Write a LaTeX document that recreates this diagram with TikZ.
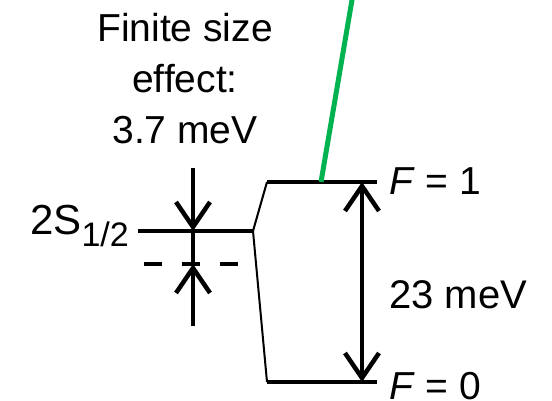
\documentclass[tikz,border=0pt]{standalone}
\usepackage{fontspec}
\setmainfont{Liberation Sans}
\usetikzlibrary{arrows.meta}
\definecolor{lasergreen}{RGB}{0,178,80}
\tikzset{
  level/.style={line width=4.7pt},
  thinlink/.style={line width=2pt},
  barbtip/.style={-{Straight Barb[length=25pt,width=34pt,line width=4.5pt]}},
  dbarb/.style={{Straight Barb[length=25pt,width=34pt,line width=4.5pt]}-{Straight Barb[length=25pt,width=34pt,line width=4.5pt]}},
  lbl/.style={inner sep=0pt, font=\fontsize{39}{51}\selectfont},
}
\begin{document}
\begin{tikzpicture}[x=1pt,y=-1pt]
\useasboundingbox (0,0) rectangle (552,401);
% coordinates
\coordinate (sL) at (138,231);
\coordinate (sR) at (253,231);
\coordinate (f1L) at (267,182);
\coordinate (f1R) at (377,182);
\coordinate (f0L) at (267,382);
\coordinate (f0R) at (377,382);
\coordinate (dL) at (144,264);
\coordinate (dR) at (238,264);
\coordinate (vTop) at (193,168);
\coordinate (vBot) at (193,326);
\coordinate (vA) at (193,231);
\coordinate (vB) at (193,264);
\coordinate (gBot) at (321,182);
\coordinate (gTop) at (353,-6);
\coordinate (aTop) at (362,182);
\coordinate (aBot) at (362,382);
% levels
\draw[level] (sL) -- (sR);
\draw[level] (f1L) -- (f1R);
\draw[level] (f0L) -- (f0R);
\draw[level, dash pattern=on 18pt off 20pt] (dL) -- (dR);
% links
\draw[thinlink] (sR) -- (f1L);
\draw[thinlink] (sR) -- (f0L);
% finite size arrows
\draw[line width=4.5pt, barbtip] (vTop) -- (vA);
\draw[line width=4.5pt, barbtip] (vBot) -- (vB);
\draw[line width=3.8pt] (vA) -- (vB);
% laser
\draw[lasergreen, line width=5pt] (gBot) -- (gTop);
% hyperfine arrow
\draw[line width=4.5pt, dbarb] (aTop) -- (aBot);
% labels
\node[lbl, align=center, anchor=north] (fse) at (185,13) {Finite size\\effect:\\3.7 meV};
\node[lbl, anchor=base east, font=\fontsize{42}{42}\selectfont] (s12) at (129,235) {2S\raisebox{-12pt}{\fontsize{34}{34}\selectfont 1/2}};
\node[lbl, anchor=base west] (F1) at (389,195) {\textit{F} = 1};
\node[lbl, anchor=base west, font=\fontsize{40}{40}\selectfont] (mev) at (389,308) {23 meV};
\node[lbl, anchor=base west] (F0) at (389,399) {\textit{F} = 0};
\end{tikzpicture}
\end{document}
